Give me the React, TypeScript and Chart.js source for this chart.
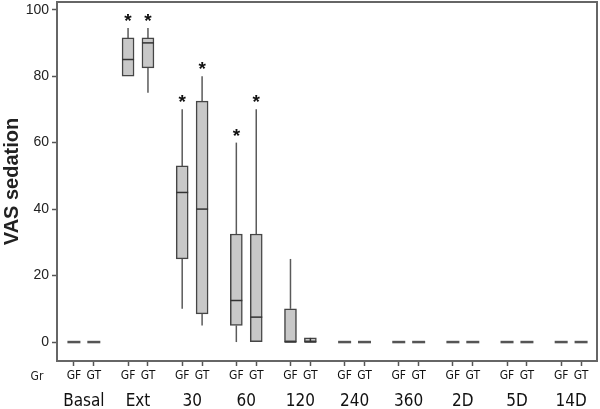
import React, { useEffect, useRef } from "react";
import { Chart, registerables } from "chart.js";

Chart.register(...registerables);

const groups = ["Basal", "Ext", "30", "60", "120", "240", "360", "2D", "5D", "14D"];
const subLabels = ["GF", "GT"];
const yTicks = [0, 20, 40, 60, 80, 100];

const gfMin = [0, 80, 10, 0, 0, 0, 0, 0, 0, 0];
const gfQ1 = [0, 80, 25, 5, 0, 0, 0, 0, 0, 0];
const gfMed = [0, 85, 45, 12.5, 0, 0, 0, 0, 0, 0];
const gfQ3 = [0, 91.5, 53, 32.5, 10, 0, 0, 0, 0, 0];
const gfMax = [0, 94.5, 70, 60, 25, 0, 0, 0, 0, 0];
const gfSig = [false, true, true, true, false, false, false, false, false, false];

const gtMin = [0, 75, 5, 0, 0, 0, 0, 0, 0, 0];
const gtQ1 = [0, 82.5, 8.5, 0, 0, 0, 0, 0, 0, 0];
const gtMed = [0, 90, 40, 7.5, 0, 0, 0, 0, 0, 0];
const gtQ3 = [0, 91.5, 72.5, 32.5, 1.25, 0, 0, 0, 0, 0];
const gtMax = [0, 94.5, 80, 70, 1.25, 0, 0, 0, 0, 0];
const gtSig = [false, true, true, true, false, false, false, false, false, false];

const GROUP_STEP = 2.72;
const xPos = (g: number, s: number) => g * GROUP_STEP + s;

type Box = { x: number; min: number; q1: number; med: number; q3: number; max: number; sig: boolean };

function buildBoxes(): Box[] {
  const out: Box[] = [];
  groups.forEach((_, g) => {
    out.push({ x: xPos(g, 0), min: gfMin[g], q1: gfQ1[g], med: gfMed[g], q3: gfQ3[g], max: gfMax[g], sig: gfSig[g] });
    out.push({ x: xPos(g, 1), min: gtMin[g], q1: gtQ1[g], med: gtMed[g], q3: gtQ3[g], max: gtMax[g], sig: gtSig[g] });
  });
  return out;
}

const FONT_NARROW = '"DejaVu Sans Condensed", "Liberation Sans Narrow", "Liberation Sans", Arial, sans-serif';
const FONT = '"Liberation Sans", Arial, sans-serif';

export default function App() {
  const ref = useRef<HTMLCanvasElement | null>(null);

  useEffect(() => {
    if (!ref.current) return;
    const boxes = buildBoxes();
    const tickPositions = boxes.map((b) => b.x);
    const tickNames = boxes.map((_, i) => subLabels[i % 2]);
    const groupCenters = groups.map((_, g) => xPos(g, 0.5));
    const xMin = -0.85;
    const xMax = xPos(groups.length - 1, 1) + 0.8;

    const extras = {
      id: "boxExtras",
      beforeDatasetsDraw(chart: any) {
        const ctx = chart.ctx;
        const xs = chart.scales.x;
        const ys = chart.scales.y;
        ctx.save();
        ctx.strokeStyle = "#5a5a5a";
        ctx.lineWidth = 1.5;
        boxes.forEach((b) => {
          const px = xs.getPixelForValue(b.x);
          if (b.max > b.q3) {
            ctx.beginPath();
            ctx.moveTo(px, ys.getPixelForValue(b.q3));
            ctx.lineTo(px, ys.getPixelForValue(b.max));
            ctx.stroke();
          }
          if (b.min < b.q1) {
            ctx.beginPath();
            ctx.moveTo(px, ys.getPixelForValue(b.q1));
            ctx.lineTo(px, ys.getPixelForValue(b.min));
            ctx.stroke();
          }
        });
        ctx.restore();
      },
      afterDatasetsDraw(chart: any) {
        const ctx = chart.ctx;
        const xs = chart.scales.x;
        const ys = chart.scales.y;
        const area = chart.chartArea;
        ctx.save();
        boxes.forEach((b) => {
          const px = xs.getPixelForValue(b.x);
          const py = ys.getPixelForValue(b.med);
          if (b.q3 === b.q1) {
            ctx.strokeStyle = "#555";
            ctx.lineWidth = 2.5;
            ctx.beginPath();
            ctx.moveTo(px - 6.5, py);
            ctx.lineTo(px + 6.5, py);
            ctx.stroke();
          } else {
            ctx.strokeStyle = "#333";
            ctx.lineWidth = 1.5;
            ctx.beginPath();
            ctx.moveTo(px - 6, py);
            ctx.lineTo(px + 6, py);
            ctx.stroke();
            if (ys.getPixelForValue(b.q1) - ys.getPixelForValue(b.q3) < 8) {
              ctx.beginPath();
              ctx.moveTo(px, ys.getPixelForValue(b.q1));
              ctx.lineTo(px, ys.getPixelForValue(b.q3));
              ctx.stroke();
            }
          }
          if (b.sig) {
            ctx.fillStyle = "#111";
            ctx.font = `bold 19px ${FONT}`;
            ctx.textAlign = "center";
            ctx.textBaseline = "alphabetic";
            ctx.fillText("*", px, ys.getPixelForValue(b.max) - 1);
          }
        });
        // frame
        ctx.strokeStyle = "#666";
        ctx.lineWidth = 2;
        ctx.strokeRect(area.left, area.top, area.right - area.left, area.bottom - area.top);
        // "Gr" label
        ctx.fillStyle = "#222";
        ctx.font = `12px ${FONT_NARROW}`;
        ctx.textAlign = "center";
        ctx.textBaseline = "middle";
        ctx.fillText("Gr", area.left - 20, area.bottom + 16);
        ctx.restore();
      },
    };

    const chart = new Chart(ref.current, {
      type: "bar",
      data: {
        datasets: [
          {
            data: boxes.filter((b) => b.q3 > b.q1).map((b) => ({ x: b.x, y: [b.q1, b.q3] })) as any,
            backgroundColor: "#c8c8c8",
            borderColor: "#454545",
            borderWidth: 1.5,
            borderSkipped: false,
            barThickness: 12,
          },
        ],
      },
      options: {
        animation: false,
        responsive: true,
        maintainAspectRatio: false,
        layout: { padding: { top: 2, right: 3, left: 0, bottom: 0 } },
        plugins: { legend: { display: false }, tooltip: { enabled: false } },
        scales: {
          x: {
            type: "linear",
            position: "bottom",
            offset: false,
            min: xMin,
            max: xMax,
            weight: 0,
            border: { display: false },
            grid: { display: true, offset: false, drawOnChartArea: false, drawTicks: true, tickLength: 5, tickColor: "#555", tickWidth: 1.5 },
            afterBuildTicks: (scale: any) => {
              scale.ticks = tickPositions.map((v) => ({ value: v }));
            },
            afterFit: (scale: any) => {
              scale.height = 24;
              scale.paddingLeft = 0;
              scale.paddingRight = 0;
            },
            ticks: {
              autoSkip: false,
              maxRotation: 0,
              padding: 3,
              color: "#111",
              font: { family: FONT_NARROW, size: 12 },
              callback: (_v: any, i: number) => tickNames[i],
            },
          },
          x2: {
            type: "linear",
            position: "bottom",
            offset: false,
            min: xMin,
            max: xMax,
            weight: 1,
            border: { display: false },
            grid: { display: false, offset: false },
            afterBuildTicks: (scale: any) => {
              scale.ticks = groupCenters.map((v) => ({ value: v }));
            },
            afterFit: (scale: any) => {
              scale.height = 24;
              scale.paddingLeft = 0;
              scale.paddingRight = 0;
            },
            ticks: {
              autoSkip: false,
              maxRotation: 0,
              padding: -2,
              color: "#111",
              font: { family: FONT_NARROW, size: 17 },
              callback: (_v: any, i: number) => groups[i],
            },
          },
          y: {
            type: "linear",
            min: -5.7,
            max: 102.3,
            border: { display: false },
            grid: { display: true, drawOnChartArea: false, drawTicks: true, tickLength: 5, tickColor: "#555", tickWidth: 1.5 },
            afterBuildTicks: (scale: any) => {
              scale.ticks = yTicks.map((v) => ({ value: v }));
            },
            afterFit: (scale: any) => {
              scale.width = 57;
              scale.paddingTop = 0;
              scale.paddingBottom = 0;
            },
            ticks: {
              padding: 3,
              color: "#222",
              font: { family: FONT, size: 14 },
            },
            title: {
              display: true,
              text: "VAS sedation",
              color: "#222",
              font: { family: FONT, size: 20, weight: "bold" },
              padding: { top: 0, bottom: 0 },
            },
          },
        },
      },
      plugins: [extras],
    });
    return () => chart.destroy();
  }, []);

  return (
    <div style={{ position: "absolute", left: 0, top: 0, width: 600, height: 409 }}>
      <canvas ref={ref} />
    </div>
  );
}
